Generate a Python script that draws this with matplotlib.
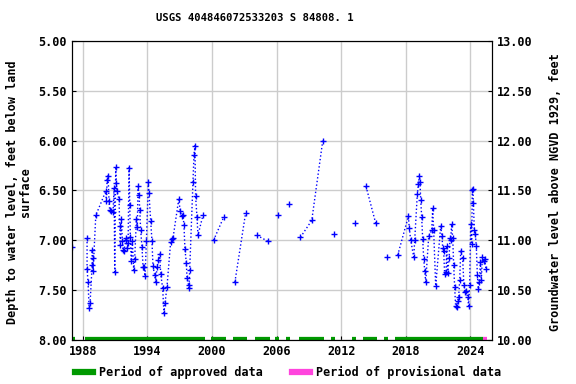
import numpy as np
import matplotlib
matplotlib.use("Agg")
import matplotlib.pyplot as plt
from matplotlib.lines import Line2D

# water level measurements (decimal year, depth below land surface in feet)
# nan entries break the line where there are gaps in the record
years = [1987.04, np.nan,
         1988.40, 1988.40, 1988.49, 1988.59, 1988.68, 1988.87, 1988.87, 1988.96, 1988.96,
         1989.21, 1990.13, 1990.20, 1990.26, 1990.35, 1990.44, 1990.50, 1990.66, 1990.81,
         1990.91, 1990.97, 1991.06, 1991.12, 1991.18, 1991.37, 1991.43, 1991.49, 1991.59,
         1991.68, 1991.74, 1991.83, 1991.99, 1992.05, 1992.14, 1992.21, 1992.30, 1992.36,
         1992.42, 1992.51, 1992.61, 1992.73, 1992.82, 1992.98, 1993.07, 1993.13, 1993.23,
         1993.29, 1993.38, 1993.50, 1993.60, 1993.69, 1993.78, 1993.91, 1994.09, 1994.15,
         1994.31, 1994.43, 1994.52, 1994.68, 1994.77, 1994.90, 1995.02, 1995.14, 1995.24,
         1995.42, 1995.54, 1995.64, 1995.82, 1996.16, 1996.29, 1996.38, 1996.91, 1997.06,
         1997.18, 1997.31, 1997.40, 1997.49, 1997.62, 1997.68, 1997.83, 1997.86, 1997.93,
         1998.24, 1998.33, 1998.42, 1998.48, 1998.61, 1998.70, 1999.16, np.nan,
         2000.15, 2001.08, np.nan,
         2002.13, 2003.12, np.nan,
         2004.17, 2005.19, np.nan,
         2006.12, np.nan,
         2007.14, np.nan,
         2008.22, 2009.27, 2010.29, np.nan,
         2011.31, np.nan,
         2013.26, np.nan,
         2014.31, 2015.21, np.nan,
         2016.23, np.nan,
         2017.25, 2018.24, 2018.33, 2018.46, 2018.74, 2018.83, 2019.07, 2019.17, 2019.26,
         2019.32, 2019.39, 2019.48, 2019.57, 2019.67, 2019.76, 2019.85, 2020.13, 2020.41,
         2020.50, 2020.59, 2020.78, 2021.24, 2021.37, 2021.43, 2021.52, 2021.61, 2021.74,
         2021.80, 2021.89, 2022.02, 2022.11, 2022.17, 2022.26, 2022.36, 2022.45, 2022.54,
         2022.63, 2022.73, 2022.82, 2022.91, 2023.01, 2023.10, 2023.28, 2023.40, 2023.50,
         2023.59, 2023.75, 2023.84, 2023.93, 2024.03, 2024.12, 2024.18, 2024.25, 2024.28,
         2024.37, 2024.46, 2024.55, 2024.65, 2024.74, 2024.83, 2024.93, 2025.02, 2025.11,
         2025.24, 2025.33, 2025.45]
depth = [7.07, np.nan,
         6.98, 7.29, 7.42, 7.68, 7.63, 7.25, 7.10, 7.18, 7.31,
         6.75, 6.51, 6.61, 6.39, 6.35, 6.61, 6.70, 6.71, 6.72,
         6.48, 7.32, 6.26, 6.43, 6.51, 6.59, 6.86, 7.05, 6.79,
         7.01, 7.10, 7.11, 7.00, 6.98, 7.08, 7.03, 6.27, 6.65,
         6.97, 7.21, 7.01, 7.30, 7.19, 6.79, 6.87, 6.46, 6.55,
         6.70, 6.90, 7.07, 7.27, 7.27, 7.36, 7.01, 6.42, 6.53,
         6.81, 7.01, 7.26, 7.35, 7.42, 7.27, 7.20, 7.14, 7.34,
         7.48, 7.73, 7.63, 7.47, 7.02, 6.99, 6.98, 6.59, 6.71,
         6.76, 6.75, 6.85, 7.09, 7.23, 7.38, 7.45, 7.48, 7.30,
         6.42, 6.14, 6.05, 6.56, 6.77, 6.95, 6.75, np.nan,
         7.00, 6.77, np.nan,
         7.42, 6.73, np.nan,
         6.95, 7.01, np.nan,
         6.75, np.nan,
         6.64, np.nan,
         6.97, 6.80, 6.00, np.nan,
         6.94, np.nan,
         6.83, np.nan,
         6.46, 6.83, np.nan,
         7.17, np.nan,
         7.15, 6.76, 6.88, 7.00, 7.17, 7.00, 6.54, 6.44, 6.35,
         6.41, 6.60, 6.77, 6.99, 7.19, 7.31, 7.42, 6.96, 6.90,
         6.68, 6.90, 7.46, 6.86, 6.96, 7.08, 7.11, 7.34, 7.32,
         7.06, 7.33, 7.18, 6.98, 7.00, 6.84, 6.98, 7.25, 7.47,
         7.66, 7.67, 7.61, 7.57, 7.40, 7.11, 7.18, 7.45, 7.52,
         7.51, 7.57, 7.66, 7.45, 6.84, 7.04, 6.50, 6.49, 6.63,
         6.90, 6.94, 7.06, 7.35, 7.49, 7.42, 7.22, 7.40, 7.17,
         7.21, 7.19, 7.29]

# periods of approved / provisional data (start, end)
approved = [(1986.95, 1987.26), (1988.19, 1999.32), (1999.94, 2001.27), (2001.91, 2003.28),
            (2003.96, 2005.35), (2005.90, 2006.27), (2006.92, 2007.29), (2008.04, 2010.45),
            (2011.10, 2011.47), (2013.02, 2013.39), (2014.07, 2015.33), (2016.01, 2016.39),
            (2017.03, 2025.20)]
provisional = [(2025.20, 2025.57)]

xticks = [1988, 1994, 2000, 2006, 2012, 2018, 2024]
datum_offset = 18.0  # groundwater level = offset - depth

mono = {'family': 'DejaVu Sans Mono', 'weight': 'bold', 'size': 8.5}
mono_title = dict(mono, size=7.6)

fig = plt.figure(figsize=(5.76, 3.84), dpi=100)
ax = fig.add_axes([0.125, 0.115, 0.729, 0.778])

ax.plot(years, depth, color='blue', linestyle=':', linewidth=1,
        marker='+', markersize=4, markeredgewidth=1)

for s, e in approved:
    ax.hlines(8.0, s, e, color='#009900', linewidth=4.5)
for s, e in provisional:
    ax.hlines(8.0, s, e, color='#ff44dd', linewidth=4.5)

ax.set_xlim(1987.0, 2026.0)
ax.set_ylim(8.0, 5.0)
ax.set_xticks(xticks)
ax.set_yticks(np.arange(5.0, 8.01, 0.5))
ax.set_yticklabels(['%.2f' % v for v in np.arange(5.0, 8.01, 0.5)])
ax.tick_params(direction='in', length=3)
ax.grid(True, color='#cccccc', linewidth=1)
ax.set_axisbelow(True)
for lab in ax.get_xticklabels() + ax.get_yticklabels():
    lab.set_fontproperties(mono)
fig.text(0.033, 0.5, 'Depth to water level, feet below land\nsurface', rotation=90,
         ha='center', va='center', multialignment='center', linespacing=1.0,
         fontdict=mono)
fig.text(0.443, 0.953, 'USGS 404846072533203 S 84808. 1', ha='center', va='center',
         fontdict=mono_title)

ax2 = ax.twinx()
ax2.set_ylim(datum_offset - 8.0, datum_offset - 5.0)
ax2.set_yticks(np.arange(10.0, 13.01, 0.5))
ax2.set_yticklabels(['%.2f' % v for v in np.arange(10.0, 13.01, 0.5)])
ax2.tick_params(direction='in', length=3)
for lab in ax2.get_yticklabels():
    lab.set_fontproperties(mono)
fig.text(0.964, 0.5, 'Groundwater level above NGVD 1929, feet', rotation=90,
         ha='center', va='center', fontdict=mono)

handles = [Line2D([], [], color='#009900', linewidth=4.5),
           Line2D([], [], color='#ff44dd', linewidth=4.5)]
fig.legend(handles, ['Period of approved data', 'Period of provisional data'],
           loc='center', bbox_to_anchor=(0.5, 0.03), ncol=2, frameon=False,
           prop=mono, handlelength=1.5, handletextpad=0.5, columnspacing=2.5)

fig.savefig('out.png', dpi=100)
